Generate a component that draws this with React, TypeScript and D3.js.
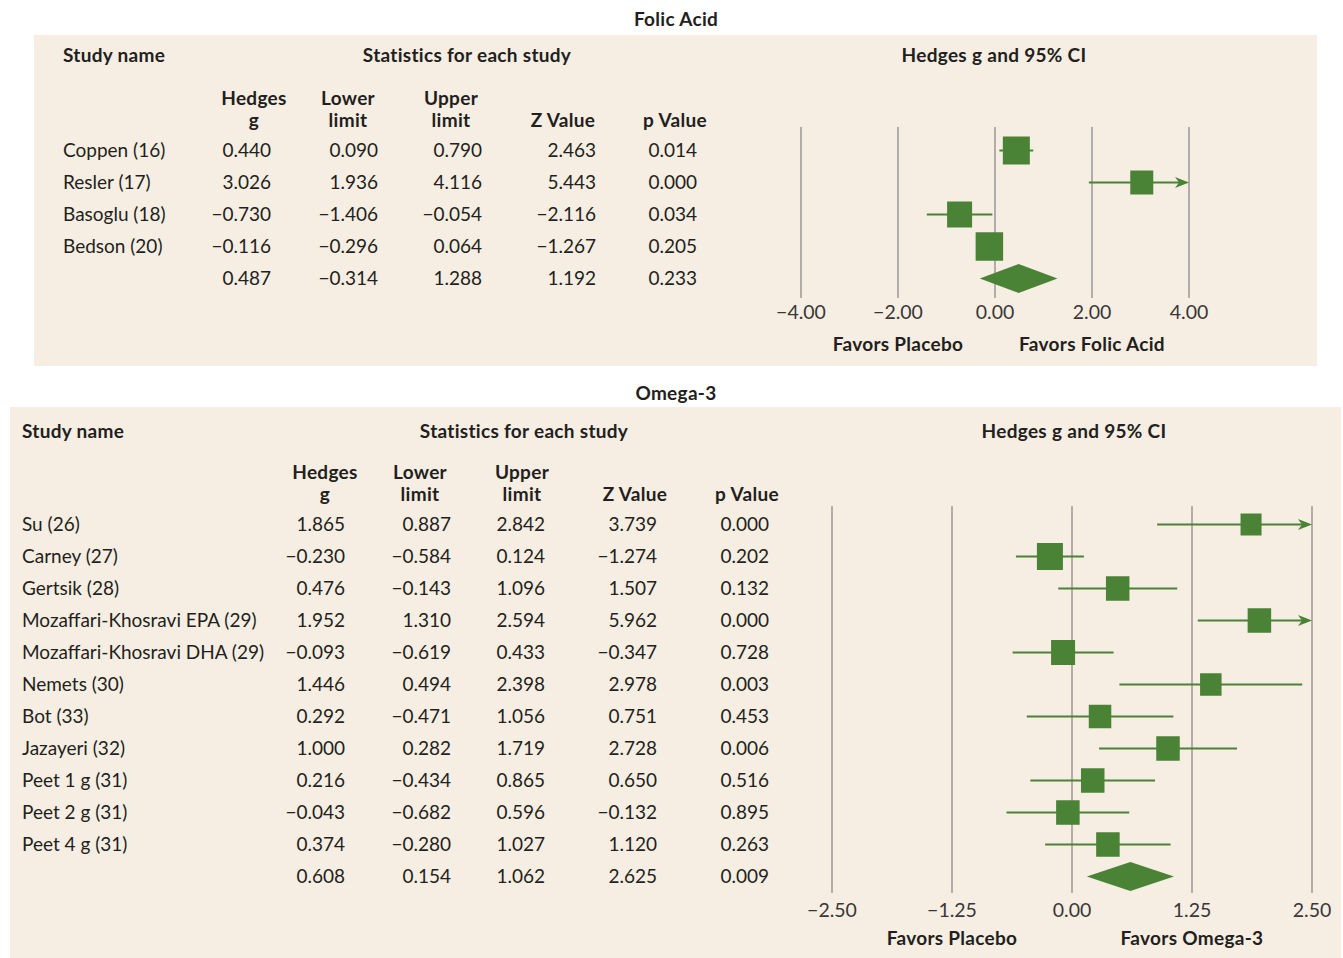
import React from "react";
import * as d3 from "d3";

// ---------- Folic Acid data ----------
const folicStudies = ["Coppen (16)", "Resler (17)", "Basoglu (18)", "Bedson (20)"];
const folicG = [0.44, 3.026, -0.73, -0.116];
const folicLower = [0.09, 1.936, -1.406, -0.296];
const folicUpper = [0.79, 4.116, -0.054, 0.064];
const folicZ = [2.463, 5.443, -2.116, -1.267];
const folicP = [0.014, 0.0, 0.034, 0.205];
const folicWeight = [27, 23, 25, 27.5];
const folicSummary = [0.487, -0.314, 1.288, 1.192, 0.233];
const folicTicks = [-4, -2, 0, 2, 4];

// ---------- Omega-3 data ----------
const omegaStudies = [
  "Su (26)",
  "Carney (27)",
  "Gertsik (28)",
  "Mozaffari-Khosravi EPA (29)",
  "Mozaffari-Khosravi DHA (29)",
  "Nemets (30)",
  "Bot (33)",
  "Jazayeri (32)",
  "Peet 1 g (31)",
  "Peet 2 g (31)",
  "Peet 4 g (31)",
];
const omegaG = [1.865, -0.23, 0.476, 1.952, -0.093, 1.446, 0.292, 1.0, 0.216, -0.043, 0.374];
const omegaLower = [0.887, -0.584, -0.143, 1.31, -0.619, 0.494, -0.471, 0.282, -0.434, -0.682, -0.28];
const omegaUpper = [2.842, 0.124, 1.096, 2.594, 0.433, 2.398, 1.056, 1.719, 0.865, 0.596, 1.027];
const omegaZ = [3.739, -1.274, 1.507, 5.962, -0.347, 2.978, 0.751, 2.728, 0.65, -0.132, 1.12];
const omegaP = [0.0, 0.202, 0.132, 0.0, 0.728, 0.003, 0.453, 0.006, 0.516, 0.895, 0.263];
const omegaWeight = [21, 26, 23.5, 23.5, 24, 21.5, 22.5, 23.5, 23.5, 23.5, 23.5];
const omegaSummary = [0.608, 0.154, 1.062, 2.625, 0.009];
const omegaTicks = [-2.5, -1.25, 0, 1.25, 2.5];

const FONT = "Lato, 'Open Sans', sans-serif";
const TEXT = "#231f20";
const BG = "#f6eee2";
const GREEN = "#4a8236";
const GRID = "#b4ada7";

const fmt = (v: number) => {
  const s = d3.format(".3f")(Math.abs(v));
  return v < 0 ? "\u2212" + s : s;
};
const fmtTick = (v: number) => {
  const s = d3.format(".2f")(Math.abs(v));
  return v < 0 ? "\u2212" + s : s;
};

type PanelProps = {
  title: string;
  titleY: number;
  bg: [number, number, number, number];
  studies: string[];
  g: number[];
  lower: number[];
  upper: number[];
  z: number[];
  p: number[];
  weight: number[];
  summary: number[];
  ticks: number[];
  nameX: number;
  headY: number;
  subHead1: number;
  subHead2: number;
  statsCenter: number;
  ciCenter: number;
  colCenters: number[];
  colRights: number[];
  firstRowY: number;
  rowStep: number;
  xRange: [number, number];
  gridTop: number;
  gridBottom: number;
  tickY: number;
  favorY: number;
  favorRight: string;
};

function Panel(props: PanelProps) {
  const { studies, g, lower, upper, z, p, weight, summary, ticks } = props;
  const domain: [number, number] = [ticks[0], ticks[ticks.length - 1]];
  const x = d3.scaleLinear().domain(domain).range(props.xRange);
  const n = studies.length;
  const y = d3
    .scaleLinear()
    .domain([0, n])
    .range([props.firstRowY, props.firstRowY + n * props.rowStep]);

  const cols = [g, lower, upper, z, p];
  const heads: [string, string][] = [
    ["Hedges", "g"],
    ["Lower", "limit"],
    ["Upper", "limit"],
    ["", "Z Value"],
    ["", "p Value"],
  ];
  const [bx, by, bw, bh] = props.bg;
  const clampX = (v: number) => x(Math.max(domain[0], Math.min(domain[1], v)));
  const sy = y(n);
  const diamond =
    d3.line()([
      [x(summary[1]), sy],
      [x(summary[0]), sy - 14.5],
      [x(summary[2]), sy],
      [x(summary[0]), sy + 14.5],
    ] as [number, number][]) + "Z";

  const boldStyle = { fontFamily: FONT, fontWeight: 700, fontSize: 19, letterSpacing: 0.3, fill: TEXT };
  const regStyle = { fontFamily: FONT, fontWeight: 400, fontSize: 19, fill: TEXT };
  const tickStyle = { fontFamily: FONT, fontWeight: 400, fontSize: 19.5, fill: "#3a3637" };

  return (
    <g>
      <text x={676} y={props.titleY} dy="0.35em" textAnchor="middle" style={boldStyle}>
        {props.title}
      </text>
      <rect x={bx} y={by} width={bw} height={bh} fill={BG} />
      <text x={props.nameX} y={props.headY} dy="0.35em" style={boldStyle}>
        Study name
      </text>
      <text x={props.statsCenter} y={props.headY} dy="0.35em" textAnchor="middle" style={boldStyle}>
        Statistics for each study
      </text>
      <text x={props.ciCenter} y={props.headY} dy="0.35em" textAnchor="middle" style={boldStyle}>
        Hedges g and 95% CI
      </text>
      {heads.map((h, i) => (
        <g key={"h" + i}>
          {h[0] && (
            <text x={props.colCenters[i]} y={props.subHead1} dy="0.35em" textAnchor="middle" style={boldStyle}>
              {h[0]}
            </text>
          )}
          <text x={props.colCenters[i]} y={props.subHead2} dy="0.35em" textAnchor="middle" style={boldStyle}>
            {h[1]}
          </text>
        </g>
      ))}
      {studies.map((s, i) => (
        <text key={"s" + i} x={props.nameX} y={y(i)} dy="0.35em" style={regStyle}>
          {s}
        </text>
      ))}
      {cols.map((col, ci) =>
        col.map((v, i) => (
          <text key={"c" + ci + "-" + i} x={props.colRights[ci]} y={y(i)} dy="0.35em" textAnchor="end" style={regStyle}>
            {fmt(v)}
          </text>
        ))
      )}
      {summary.map((v, ci) => (
        <text key={"sum" + ci} x={props.colRights[ci]} y={y(n)} dy="0.35em" textAnchor="end" style={regStyle}>
          {fmt(v)}
        </text>
      ))}
      {ticks.map((t, i) => (
        <line key={"gl" + i} x1={x(t)} x2={x(t)} y1={props.gridTop} y2={props.gridBottom} stroke={GRID} strokeWidth={2} />
      ))}
      {ticks.map((t, i) => (
        <text key={"tl" + i} x={x(t)} y={props.tickY} dy="0.35em" textAnchor="middle" style={tickStyle}>
          {fmtTick(t)}
        </text>
      ))}
      <text x={x(ticks[1])} y={props.favorY} dy="0.35em" textAnchor="middle" style={boldStyle}>
        Favors Placebo
      </text>
      <text x={x(ticks[3])} y={props.favorY} dy="0.35em" textAnchor="middle" style={boldStyle}>
        {props.favorRight}
      </text>
      {studies.map((s, i) => {
        const cy = y(i);
        const lo = clampX(lower[i]);
        const hiOver = upper[i] > domain[1];
        const hi = clampX(upper[i]);
        const w = weight[i];
        return (
          <g key={"m" + i}>
            <line x1={lo} x2={hiOver ? hi - 10 : hi} y1={cy} y2={cy} stroke={GREEN} strokeWidth={2} />
            {hiOver && (
              <path d={`M${hi},${cy} L${hi - 14},${cy - 5.5} L${hi - 10},${cy} L${hi - 14},${cy + 5.5} Z`} fill={GREEN} />
            )}
            <rect x={x(g[i]) - w / 2} y={cy - w / 2 - 0.5} width={w} height={w + 1} fill={GREEN} />
          </g>
        );
      })}
      <path d={diamond} fill={GREEN} />
    </g>
  );
}

export default function App() {
  return (
    <div style={{ position: "absolute", left: 0, top: 0 }}>
      <svg width={1343} height={958} style={{ display: "block", background: "#ffffff" }}>
        <Panel
          title="Folic Acid"
          titleY={19}
          bg={[34, 35, 1283, 331]}
          studies={folicStudies}
          g={folicG}
          lower={folicLower}
          upper={folicUpper}
          z={folicZ}
          p={folicP}
          weight={folicWeight}
          summary={folicSummary}
          ticks={folicTicks}
          nameX={63}
          headY={55}
          subHead1={98}
          subHead2={120}
          statsCenter={467}
          ciCenter={994}
          colCenters={[254, 348, 451, 563, 675]}
          colRights={[271, 378, 482, 596, 697]}
          firstRowY={150.5}
          rowStep={32}
          xRange={[801, 1189]}
          gridTop={127}
          gridBottom={298}
          tickY={312.5}
          favorY={344}
          favorRight="Favors Folic Acid"
        />
        <Panel
          title="Omega-3"
          titleY={393}
          bg={[10, 407, 1331, 551]}
          studies={omegaStudies}
          g={omegaG}
          lower={omegaLower}
          upper={omegaUpper}
          z={omegaZ}
          p={omegaP}
          weight={omegaWeight}
          summary={omegaSummary}
          ticks={omegaTicks}
          nameX={22}
          headY={431}
          subHead1={472}
          subHead2={494}
          statsCenter={524}
          ciCenter={1074}
          colCenters={[325, 420, 522, 635, 747]}
          colRights={[345, 451, 545, 657, 769]}
          firstRowY={524.5}
          rowStep={32}
          xRange={[832, 1312]}
          gridTop={506}
          gridBottom={893}
          tickY={910.5}
          favorY={938}
          favorRight="Favors Omega-3"
        />
      </svg>
    </div>
  );
}
